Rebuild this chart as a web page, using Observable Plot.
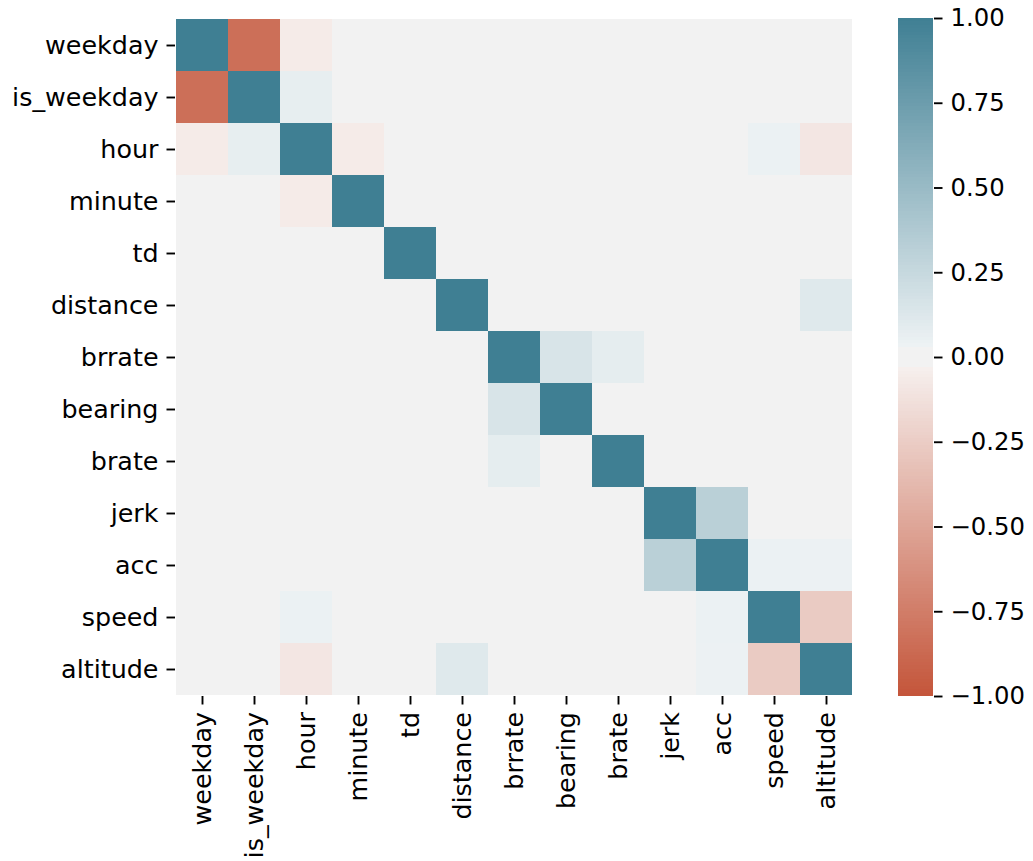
<!DOCTYPE html>
<html>
<head>
<meta charset="utf-8">
<script src="https://cdn.jsdelivr.net/npm/d3@7"></script>
<script src="https://cdn.jsdelivr.net/npm/@observablehq/plot@0.6"></script>
<style>
  body { margin: 0; background: #fff; }
  #chart { position: relative; width: 1033px; height: 861px; }
  #chart svg { position: absolute; top: 0; }
</style>
</head>
<body>
<div id="chart"></div>
<script>
// Feature names, in matrix order
const features = ["weekday", "is_weekday", "hour", "minute", "td", "distance",
  "brrate", "bearing", "brate", "jerk", "acc", "speed", "altitude"];

// Pairwise correlation matrix (rows and columns follow `features`)
const corr = [
  [1, -0.84, -0.06, 0, 0, 0, 0, 0, 0, 0, 0, 0, 0],
  [-0.84, 1, 0.07, 0, 0, 0, 0, 0, 0, 0, 0, 0, 0],
  [-0.06, 0.07, 1, -0.06, 0, 0, 0, 0, 0, 0, 0, 0.045, -0.09],
  [0, 0, -0.06, 1, 0, 0, 0, 0, 0, 0, 0, 0, 0],
  [0, 0, 0, 0, 1, 0, 0, 0, 0, 0, 0, 0, 0],
  [0, 0, 0, 0, 0, 1, 0, 0, 0, 0, 0, 0, 0.11],
  [0, 0, 0, 0, 0, 0, 1, 0.15, 0.08, 0, 0, 0, 0],
  [0, 0, 0, 0, 0, 0, 0.15, 1, 0, 0, 0, 0, 0],
  [0, 0, 0, 0, 0, 0, 0.08, 0, 1, 0, 0, 0, 0],
  [0, 0, 0, 0, 0, 0, 0, 0, 0, 1, 0.32, 0, 0],
  [0, 0, 0, 0, 0, 0, 0, 0, 0, 0.32, 1, 0.045, 0.04],
  [0, 0, 0.045, 0, 0, 0, 0, 0, 0, 0, 0.045, 1, -0.26],
  [0, 0, -0.09, 0, 0, 0.11, 0, 0, 0, 0, 0.04, -0.26, 1]
];

// Diverging palette: rust → neutral gray band → teal
const colorStops = [-1, -0.035, -0.034, 0.034, 0.035, 1];
const colorRange = ["#c4553a", "#f6efed", "#f2f2f2", "#f2f2f2", "#edf2f4", "#3f7f93"];
const colorbarTicks = [-1, -0.75, -0.5, -0.25, 0, 0.25, 0.5, 0.75, 1];

const colorScale = {type: "linear", domain: colorStops, range: colorRange, interpolate: "rgb"};
const baseStyle = {fontFamily: "'DejaVu Sans', sans-serif", color: "#000", background: "transparent"};

// Tidy table for the cell mark
const cells = corr.flatMap((row, i) => row.map((v, j) => ({row: features[i], col: features[j], value: v})));

const heatmap = Plot.plot({
  width: 880,
  height: 861,
  marginLeft: 175,
  marginRight: 27,
  marginTop: 18,
  marginBottom: 165,
  style: {...baseStyle, fontSize: "25.4px"},
  x: {domain: features, padding: 0, label: null},
  y: {domain: features, padding: 0, label: null},
  color: colorScale,
  marks: [
    Plot.cell(cells, {x: "col", y: "row", fill: "value", inset: 0, shapeRendering: "crispEdges"}),
    Plot.axisY({anchor: "left", tickSize: 8.5, tickPadding: 8.5, strokeWidth: 1.9, label: null}),
    Plot.axisX({anchor: "bottom", tickSize: 8.5, tickPadding: 7, strokeWidth: 1.9, tickRotate: -90, label: null})
  ]
});
heatmap.style.left = "0px";

// Vertical colorbar built from 200 discrete steps of the same scale
const steps = d3.range(200).map(i => -1 + i * 0.01);
const colorbar = Plot.plot({
  width: 153,
  height: 714,
  marginLeft: 18,
  marginRight: 100,
  marginTop: 18,
  marginBottom: 18,
  style: {...baseStyle, fontSize: "24.3px"},
  x: {domain: [0, 1], axis: null},
  y: {domain: [-1, 1], label: null},
  color: colorScale,
  marks: [
    Plot.rect(steps, {x1: 0, x2: 1, y1: d => d, y2: d => d + 0.01, fill: d => d + 0.005, shapeRendering: "crispEdges"}),
    Plot.axisY({anchor: "right", ticks: colorbarTicks, tickFormat: d3.format(".2f"), tickSize: 8.5, tickPadding: 8.5, strokeWidth: 1.9, label: null})
  ]
});
colorbar.style.left = "880px";

const chart = document.getElementById("chart");
chart.append(heatmap, colorbar);
</script>
</body>
</html>
